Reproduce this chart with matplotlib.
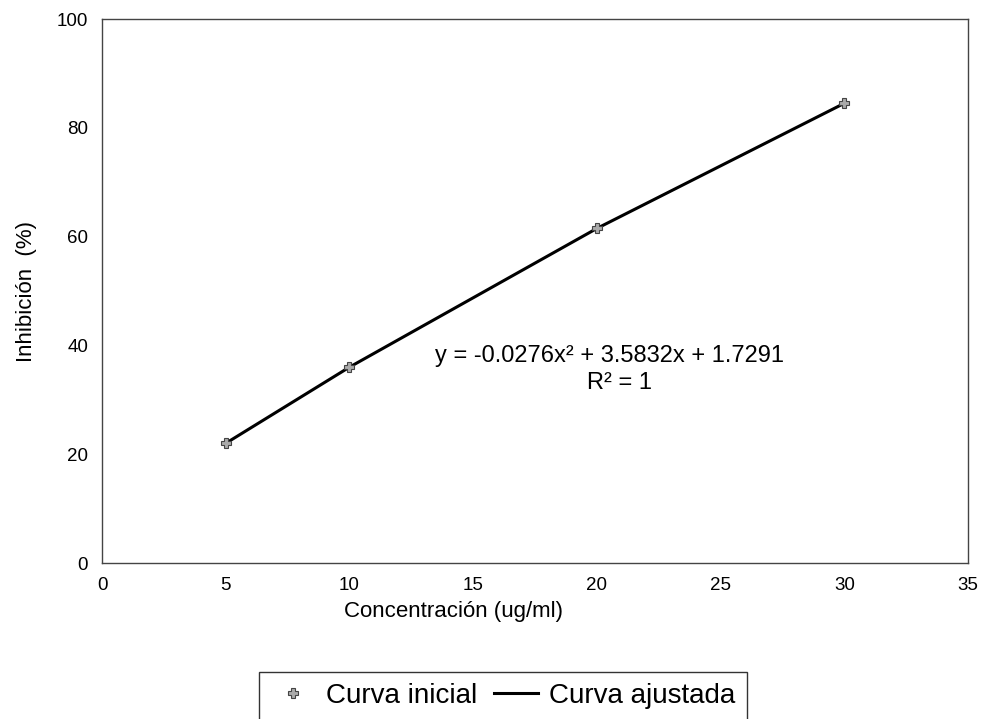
import numpy as np
import matplotlib.pyplot as plt

plt.rcParams["font.family"] = ["Liberation Sans", "DejaVu Sans"]

# data
conc = [5, 10, 20, 30]
inhib = [22.0, 36.0, 61.5, 84.5]
eq_text = "y = -0.0276x² + 3.5832x + 1.7291"
r2_text = "R² = 1"

fig = plt.figure(figsize=(9.93, 7.19), dpi=100)
ax = fig.add_axes([102 / 993, 1 - 563 / 719, 866 / 993, 544 / 719])

ax.plot(conc, inhib, "-", color="black", lw=2.2, label="Curva ajustada", zorder=2)
ax.plot(conc, inhib, linestyle="none", marker="P", ms=7, color="#aaaaaa",
        mec="#444444", mew=0.8, label="Curva inicial", zorder=3)

ax.set_xlim(0, 35)
ax.set_ylim(0, 100)
ax.set_xticks(range(0, 36, 5))
ax.set_yticks(range(0, 101, 20))
ax.tick_params(labelsize=13.5, length=0, pad=10, colors="black")
for s in ax.spines.values():
    s.set_color("#444444")
    s.set_linewidth(1)

# x label sits left of the axes centre in the original
fig.text(453 / 993, 1 - 612 / 719, "Concentración (ug/ml)", fontsize=16,
         ha="center", va="center")
ax.set_ylabel("Inhibición  (%)", fontsize=16, labelpad=14)

ax.text(20.5, 38, eq_text, fontsize=17, ha="center", va="center")
ax.text(20.9, 33.0, r2_text, fontsize=17, ha="center", va="center")

handles, labels = ax.get_legend_handles_labels()
leg = fig.legend(handles[::-1], labels[::-1], loc="upper center",
                 bbox_to_anchor=(503 / 993, 1 - 658 / 719), ncol=2, fontsize=20,
                 frameon=True, fancybox=False, handlelength=1.6,
                 columnspacing=0.6, handletextpad=0.4, borderpad=0.4)
leg.get_frame().set_edgecolor("black")
leg.get_frame().set_linewidth(1)

fig.savefig("out.png", dpi=100)
